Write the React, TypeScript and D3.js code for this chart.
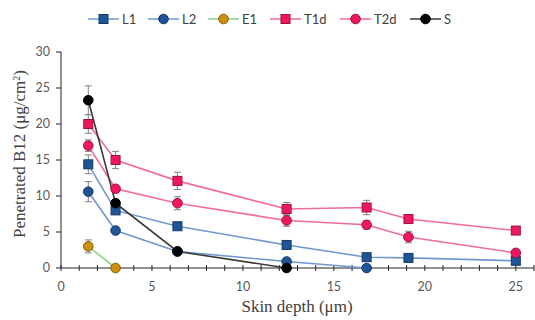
import * as d3 from "d3";

const depths = [1.5, 3, 6.4, 12.4, 16.8, 19.1, 25];

const l1Values = [14.4, 8.0, 5.8, 3.2, 1.5, 1.4, 1.0];
const l1Err = [1.3, 0.4, 0.3, 0.3, 0.2, 0.2, 0.2];
const l2Values = [10.6, 5.2, 2.3, 0.9, 0];
const l2Err = [1.4, 0.3, 0.2, 0.2, 0.1];
const e1Values = [3.0, 0];
const e1Err = [0.9, 0];
const t1dValues = [20.0, 15.0, 12.1, 8.2, 8.4, 6.8, 5.2];
const t1dErr = [1.3, 1.2, 1.2, 0.9, 1.0, 0.4, 0.3];
const t2dValues = [17.0, 11.0, 9.0, 6.6, 6.0, 4.3, 2.1];
const t2dErr = [0.8, 0.5, 0.9, 0.8, 0.6, 0.8, 0.3];
const sValues = [23.3, 9.0, 2.3, 0];
const sErr = [2.0, 0.5, 0.3, 0];

const xTicks = [0, 5, 10, 15, 20, 25];
const yTicks = [0, 5, 10, 15, 20, 25, 30];

type Series = {
  name: string;
  values: number[];
  err: number[];
  shape: "square" | "circle";
  line: string;
  fill: string;
  stroke: string;
};

const series: Series[] = [
  { name: "L1", values: l1Values, err: l1Err, shape: "square", line: "#6f98cf", fill: "#1f5597", stroke: "#12386a" },
  { name: "L2", values: l2Values, err: l2Err, shape: "circle", line: "#6f98cf", fill: "#1f5597", stroke: "#12386a" },
  { name: "E1", values: e1Values, err: e1Err, shape: "circle", line: "#8fd18a", fill: "#c8900c", stroke: "#8a6000" },
  { name: "T1d", values: t1dValues, err: t1dErr, shape: "square", line: "#f26aa2", fill: "#f0185c", stroke: "#a0103c" },
  { name: "T2d", values: t2dValues, err: t2dErr, shape: "circle", line: "#f26aa2", fill: "#f0185c", stroke: "#a0103c" },
  { name: "S", values: sValues, err: sErr, shape: "circle", line: "#3a3a3a", fill: "#000000", stroke: "#000000" },
];

const W = 535;
const H = 320;
const x = d3.scaleLinear().domain([0, 26]).range([61, 534]);
const y = d3.scaleLinear().domain([0, 30]).range([268, 52]);

const Marker = ({ s, cx, cy }: { s: Series; cx: number; cy: number }) =>
  s.shape === "square" ? (
    <rect x={cx - 4.5} y={cy - 4.5} width={9} height={9} fill={s.fill} stroke={s.stroke} strokeWidth={1} />
  ) : (
    <circle cx={cx} cy={cy} r={4.8} fill={s.fill} stroke={s.stroke} strokeWidth={1} />
  );

export default function App() {
  const line = d3
    .line<number>()
    .x((_, i) => x(depths[i]))
    .y((d) => y(d));
  const minor = d3.range(0, 27, 1);
  const legendX = [88, 148, 208, 270, 340, 410];

  return (
    <div style={{ position: "absolute", left: 0, top: 0 }}>
      <svg width={W} height={H} style={{ display: "block", background: "#fff" }}>
        {/* legend */}
        {series.map((s, i) => (
          <g key={s.name} transform={`translate(${legendX[i]},19)`}>
            <line x1={0} x2={31} y1={0} y2={0} stroke={s.line} strokeWidth={1.5} />
            <Marker s={s} cx={15.5} cy={0} />
            <text x={34} y={4.5} fontFamily="Lato, sans-serif" fontSize={13} fill="#404040">
              {s.name}
            </text>
          </g>
        ))}

        {/* y axis */}
        <line x1={61} x2={61} y1={y(30)} y2={y(0)} stroke="#222" strokeWidth={1} />
        {yTicks.map((t) => (
          <g key={t}>
            <line x1={56} x2={61} y1={y(t)} y2={y(t)} stroke="#222" />
            <text x={50} y={y(t) + 4} textAnchor="end" fontFamily="Lato, sans-serif" fontSize={12.5} fill="#595959">
              {t}
            </text>
          </g>
        ))}

        {/* x axis */}
        <line x1={61} x2={534} y1={y(0)} y2={y(0)} stroke="#222" strokeWidth={1} />
        {minor.map((t) => (
          <line key={t} x1={x(t)} x2={x(t)} y1={y(0) - 3} y2={y(0) + 3} stroke="#222" />
        ))}
        {xTicks.map((t) => (
          <text key={t} x={x(t)} y={291} textAnchor="middle" fontFamily="Lato, sans-serif" fontSize={12.5} fill="#595959">
            {t}
          </text>
        ))}

        {/* lines */}
        {series.map((s) => (
          <path key={s.name} d={line(s.values) ?? ""} fill="none" stroke={s.line} strokeWidth={1.6} />
        ))}

        {/* error bars */}
        {series.map((s) =>
          s.values.map((v, i) =>
            s.err[i] > 0 ? (
              <g key={`${s.name}-e${i}`} stroke="#808080" strokeWidth={1}>
                <line x1={x(depths[i])} x2={x(depths[i])} y1={y(v + s.err[i])} y2={y(v - s.err[i])} />
                <line x1={x(depths[i]) - 3.5} x2={x(depths[i]) + 3.5} y1={y(v + s.err[i])} y2={y(v + s.err[i])} />
                <line x1={x(depths[i]) - 3.5} x2={x(depths[i]) + 3.5} y1={y(v - s.err[i])} y2={y(v - s.err[i])} />
              </g>
            ) : null
          )
        )}

        {/* markers */}
        {series.map((s) =>
          s.values.map((v, i) => <Marker key={`${s.name}-m${i}`} s={s} cx={x(depths[i])} cy={y(v)} />)
        )}

        {/* axis titles */}
        <text
          transform="translate(25,154) rotate(-90)"
          textAnchor="middle"
          fontFamily="'Liberation Serif', serif"
          fontSize={17}
          fill="#404040"
        >
          Penetrated B12 (μg/cm<tspan baselineShift="super" fontSize={10}>2</tspan>)
        </text>
        <text x={297} y={312} textAnchor="middle" fontFamily="'Liberation Serif', serif" fontSize={17} fill="#404040">
          Skin depth (μm)
        </text>
      </svg>
    </div>
  );
}
